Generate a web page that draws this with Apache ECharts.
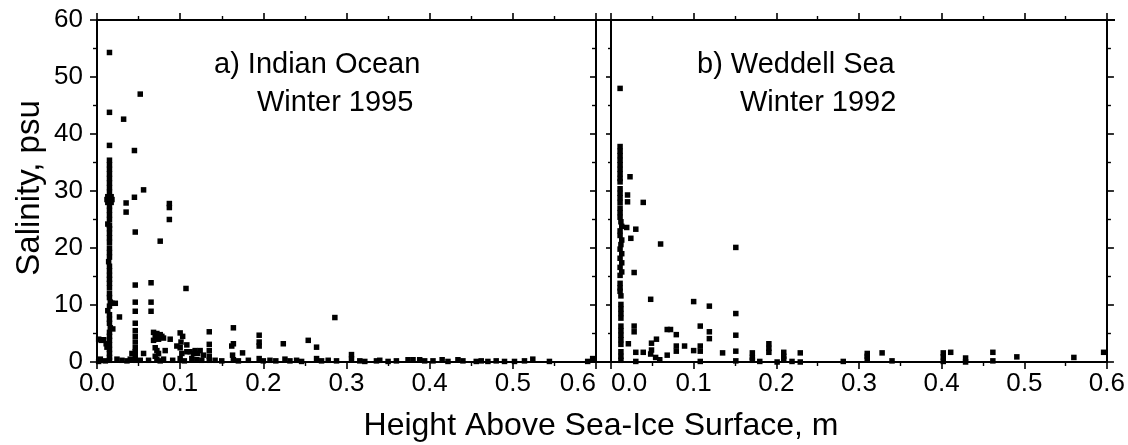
<!DOCTYPE html>
<html><head><meta charset="utf-8">
<script src="https://cdn.jsdelivr.net/npm/echarts@6/dist/echarts.min.js"></script>
<style>html,body{margin:0;padding:0;background:#fff}#c{width:1128px;height:445px}</style>
</head><body><div id="c"></div>
<script>
// ---- data: [height above sea-ice surface (m), salinity (psu)] ----
const panelTitles = ['a) Indian Ocean', 'b) Weddell Sea'];
const panelSubtitles = ['Winter 1995', 'Winter 1992'];
const xAxisTitle = 'Height Above Sea-Ice Surface, m';
const yAxisTitle = 'Salinity, psu';

const indianPoints = [
[0.015,54.3],[0.015,43.8],[0.015,38.0],[0.015,35.4],[0.015,34.6],[0.015,33.8],[0.015,33.0],[0.015,32.2],
[0.015,31.4],[0.015,30.6],[0.015,29.8],[0.013,29.0],[0.017,29.0],[0.012,28.5],[0.015,28.5],[0.018,28.5],
[0.013,28.0],[0.017,28.0],[0.015,27.4],[0.015,26.6],[0.015,25.8],[0.015,25.0],[0.013,24.2],[0.015,24.0],
[0.015,23.4],[0.015,22.6],[0.015,21.8],[0.015,21.0],[0.015,20.0],[0.015,19.2],[0.015,18.4],[0.014,17.6],
[0.015,16.8],[0.015,16.0],[0.015,15.2],[0.015,14.5],[0.015,13.8],[0.015,13.0],[0.015,12.0],[0.015,11.3],
[0.016,10.5],[0.018,10.3],[0.022,10.3],[0.015,9.8],[0.013,9.0],[0.015,8.3],[0.015,7.5],[0.015,6.8],
[0.016,6.0],[0.019,5.8],[0.015,5.2],[0.015,4.5],[0.015,3.8],[0.015,3.0],[0.015,2.2],[0.015,1.5],
[0.015,0.8],[0.015,0.3],[0.002,4.0],[0.005,3.8],[0.008,3.9],[0.011,3.2],[0.012,2.6],[0.004,0.5],
[0.002,0.1],[0.010,0.2],[0.032,42.6],[0.045,37.1],[0.052,47.0],[0.035,27.9],[0.035,26.3],[0.045,28.9],
[0.056,30.2],[0.046,22.8],[0.087,27.8],[0.087,27.1],[0.087,25.0],[0.076,21.2],[0.107,12.9],[0.046,13.5],
[0.046,10.5],[0.046,8.9],[0.065,13.9],[0.065,10.5],[0.065,8.9],[0.027,7.9],[0.024,0.5],[0.030,0.3],
[0.036,0.2],[0.046,6.8],[0.046,5.5],[0.046,4.5],[0.046,3.5],[0.046,2.5],[0.046,1.8],[0.046,1.0],
[0.046,0.3],[0.042,1.5],[0.040,0.5],[0.056,1.5],[0.052,0.3],[0.068,5.2],[0.072,5.0],[0.076,4.8],
[0.070,4.3],[0.074,4.0],[0.078,4.5],[0.068,3.8],[0.080,4.2],[0.070,2.5],[0.072,2.0],[0.074,1.5],
[0.070,1.0],[0.072,0.5],[0.076,0.2],[0.082,2.0],[0.080,0.5],[0.062,0.3],[0.088,4.0],[0.096,2.8],
[0.091,0.3],[0.100,5.1],[0.103,4.5],[0.101,3.5],[0.100,2.5],[0.102,1.5],[0.100,0.6],[0.105,0.2],
[0.108,3.0],[0.108,1.8],[0.112,1.8],[0.116,1.5],[0.118,2.0],[0.121,1.5],[0.124,2.0],[0.114,0.6],
[0.120,0.4],[0.126,0.3],[0.128,1.2],[0.135,5.3],[0.135,3.1],[0.135,2.0],[0.135,1.0],[0.135,0.3],
[0.142,0.3],[0.150,0.2],[0.164,6.0],[0.164,3.2],[0.162,2.8],[0.163,1.2],[0.164,0.4],[0.175,1.6],
[0.170,0.2],[0.182,0.3],[0.195,4.7],[0.195,3.5],[0.195,2.8],[0.195,0.6],[0.200,0.2],[0.208,0.3],
[0.215,0.2],[0.224,3.2],[0.226,0.5],[0.232,0.2],[0.240,0.3],[0.246,0.1],[0.254,3.8],[0.264,2.6],
[0.264,0.6],[0.270,0.2],[0.278,0.3],[0.286,7.8],[0.288,0.2],[0.306,1.3],[0.306,0.5],[0.316,0.2],
[0.322,0.1],[0.336,0.2],[0.340,0.3],[0.350,0.1],[0.360,0.2],[0.374,0.4],[0.380,0.4],[0.388,0.4],
[0.394,0.2],[0.404,0.2],[0.415,0.4],[0.422,0.1],[0.434,0.4],[0.440,0.2],[0.456,0.1],[0.462,0.2],
[0.470,0.1],[0.480,0.2],[0.490,0.1],[0.502,0.1],[0.514,0.2],[0.524,0.5],[0.544,0.1],[0.590,0.1],
[0.596,0.6]
];

const weddellPoints = [
[0.011,48.0],[0.011,37.8],[0.011,37.0],[0.011,36.2],[0.011,35.4],[0.011,34.6],[0.011,33.8],[0.011,33.0],
[0.011,32.2],[0.011,31.6],[0.011,30.4],[0.011,29.6],[0.011,28.8],[0.011,28.0],[0.011,27.0],[0.011,26.2],
[0.011,25.4],[0.012,24.6],[0.013,23.8],[0.011,23.0],[0.011,22.2],[0.013,21.4],[0.012,20.6],[0.011,19.8],
[0.013,19.0],[0.011,18.2],[0.013,17.4],[0.011,16.6],[0.013,15.8],[0.011,15.2],[0.011,13.8],[0.011,13.0],
[0.011,12.4],[0.012,11.6],[0.012,10.1],[0.012,9.3],[0.012,8.5],[0.012,7.7],[0.012,6.3],[0.012,5.5],
[0.012,4.7],[0.012,3.9],[0.012,3.1],[0.012,1.8],[0.012,1.0],[0.012,0.3],
[0.023,32.5],[0.020,29.3],[0.020,28.1],[0.039,28.0],[0.019,23.6],[0.030,23.3],[0.024,21.7],[0.060,20.7],
[0.151,20.1],[0.028,15.7],[0.048,11.0],[0.100,10.6],[0.119,9.8],[0.151,8.5],[0.151,4.7],[0.151,1.9],
[0.151,0.2],[0.021,3.2],[0.028,6.3],[0.028,5.3],[0.030,1.7],[0.039,1.7],[0.030,0.1],[0.049,3.3],
[0.049,2.1],[0.055,4.0],[0.048,1.4],[0.059,0.4],[0.054,0.8],[0.068,5.7],[0.072,5.7],[0.068,1.2],
[0.079,4.8],[0.079,2.8],[0.079,1.9],[0.089,2.8],[0.100,2.0],[0.108,6.3],[0.108,2.8],[0.108,1.9],
[0.108,0.1],[0.119,5.3],[0.119,4.1],[0.135,1.6],[0.171,1.6],[0.171,0.8],[0.171,0.3],[0.180,0.1],
[0.191,3.2],[0.191,2.4],[0.191,1.7],[0.201,0.0],[0.209,1.7],[0.209,1.0],[0.209,0.5],[0.219,0.1],
[0.229,1.6],[0.229,0.0],[0.281,0.1],[0.310,1.5],[0.310,1.0],[0.310,0.5],[0.328,1.6],[0.340,0.2],
[0.402,1.6],[0.402,0.9],[0.402,0.1],[0.411,1.7],[0.429,0.7],[0.429,0.0],[0.462,1.7],[0.462,0.2],
[0.491,0.9],[0.560,0.8],[0.596,1.7]
];

const xRange = {min: 0, max: 0.6, interval: 0.1};
const yRange = {min: 0, max: 60, interval: 10};

// ---- styling ----
const FONT = 'Liberation Sans, Arial, Helvetica, sans-serif';
const black = '#000';
const lineW = 2;

function xAxisCfg(grid, pos, labels, extra) {
  return {
    type: 'value', gridIndex: grid, position: pos,
    min: xRange.min, max: xRange.max, interval: xRange.interval,
    axisLine: {show: true, onZero: false, lineStyle: {color: black, width: lineW}},
    axisTick: {show: true, inside: false, length: 7, lineStyle: {color: black, width: 1.6}},
    minorTick: {show: true, splitNumber: 2, length: 4, lineStyle: {color: black, width: 1.4}},
    splitLine: {show: false},
    axisLabel: Object.assign({show: labels, color: black, fontSize: 26, fontFamily: FONT, margin: 9,
      formatter: v => v.toFixed(1)}, extra || {})
  };
}
function yAxisCfg(grid, pos, labels, inside, len) {
  return {
    type: 'value', gridIndex: grid, position: pos,
    min: yRange.min, max: yRange.max, interval: yRange.interval,
    axisLine: {show: true, onZero: false, lineStyle: {color: black, width: lineW}},
    axisTick: {show: true, inside: inside, length: len, lineStyle: {color: black, width: 1.6}},
    minorTick: {show: true, splitNumber: 2, length: Math.round(len * 0.6), lineStyle: {color: black, width: 1.4}},
    splitLine: {show: false},
    axisLabel: {show: labels, color: black, fontSize: 26, fontFamily: FONT, margin: 14}
  };
}

const chart = echarts.init(document.getElementById('c'), null, {renderer: 'canvas'});
chart.setOption({
  animation: false,
  backgroundColor: '#fff',
  grid: [
    {left: 97, right: 532, top: 20, bottom: 83},
    {left: 611, right: 21, top: 20, bottom: 83}
  ],
  xAxis: [
    xAxisCfg(0, 'bottom', true, {alignMaxLabel: 'right'}),
    xAxisCfg(0, 'top', false),
    xAxisCfg(1, 'bottom', true, {alignMinLabel: 'left'}),
    xAxisCfg(1, 'top', false)
  ],
  yAxis: [
    yAxisCfg(0, 'left', true, false, 7),
    yAxisCfg(0, 'right', false, true, 6),
    yAxisCfg(1, 'left', false, false, 5),
    yAxisCfg(1, 'right', false, false, 7)
  ],
  graphic: [
    {type: 'line', shape: {x1: 96, y1: 20, x2: 1115, y2: 20}, style: {stroke: black, lineWidth: lineW}, z: 10},
    {type: 'line', shape: {x1: 96, y1: 362, x2: 1108, y2: 362}, style: {stroke: black, lineWidth: lineW}, z: 10},
    {type: 'text', left: 214, top: 50, style: {text: panelTitles[0], font: '29px ' + FONT, fill: black}},
    {type: 'text', left: 257, top: 88, style: {text: panelSubtitles[0], font: '29px ' + FONT, fill: black}},
    {type: 'text', left: 697, top: 50, style: {text: panelTitles[1], font: '29px ' + FONT, fill: black}},
    {type: 'text', left: 740, top: 88, style: {text: panelSubtitles[1], font: '29px ' + FONT, fill: black}},
    {type: 'text', x: 601, y: 426, style: {text: xAxisTitle, font: '32px ' + FONT, fill: black, align: 'center', verticalAlign: 'middle'}},
    {type: 'text', x: 30, y: 188, rotation: Math.PI / 2, style: {text: yAxisTitle, font: '33px ' + FONT, fill: black, align: 'center', verticalAlign: 'middle'}}
  ],
  series: [
    {type: 'scatter', xAxisIndex: 0, yAxisIndex: 0, data: indianPoints,
      symbol: 'rect', symbolSize: 5.5, itemStyle: {color: black, opacity: 1}},
    {type: 'scatter', xAxisIndex: 2, yAxisIndex: 2, data: weddellPoints,
      symbol: 'rect', symbolSize: 5.5, itemStyle: {color: black, opacity: 1}}
  ]
});
</script></body></html>
